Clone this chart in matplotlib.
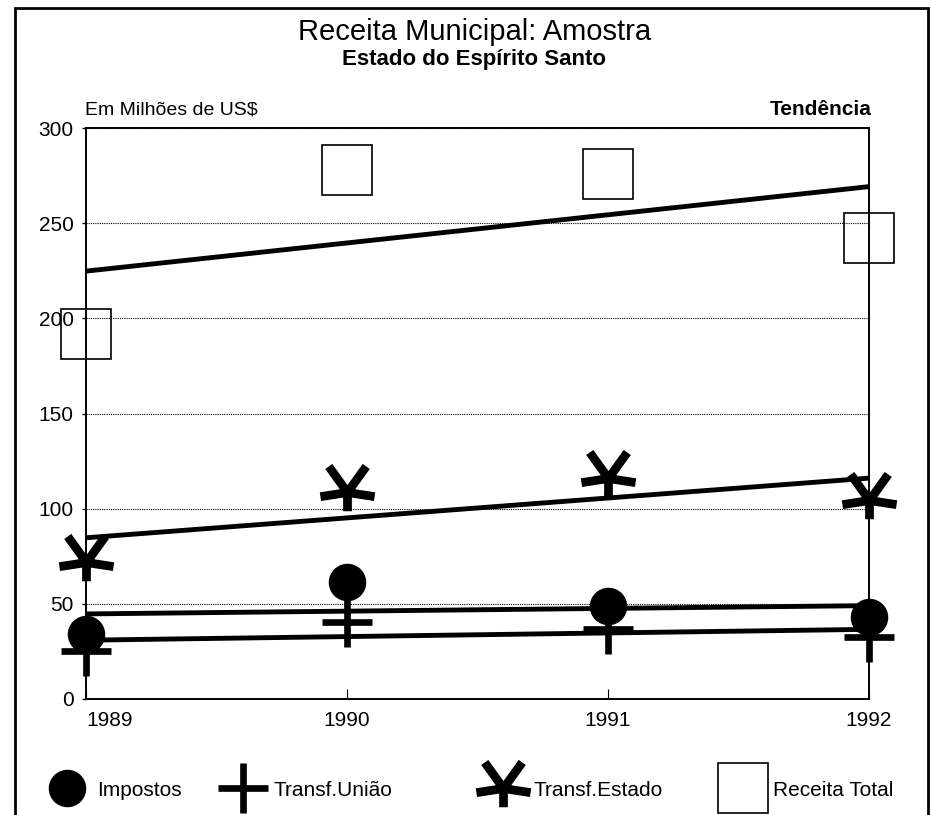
import numpy as np
import matplotlib
matplotlib.use("Agg")
import matplotlib.pyplot as plt
from matplotlib.lines import Line2D
from matplotlib.path import Path
from matplotlib.patches import Rectangle

plt.rcParams['font.family'] = ['Liberation Sans', 'DejaVu Sans']

# data (millions of US$)
years = [1989, 1990, 1991, 1992]
impostos = [34, 61.5, 49, 43]
transf_uniao = [25, 40.5, 37, 32.5]
transf_estado = [72, 109, 116, 104.5]
receita_total = [192, 278, 276, 242]

series_names = ['Impostos', 'Transf.União', 'Transf.Estado', 'Receita Total']
y_ticks = [0, 50, 100, 150, 200, 250, 300]

# star marker of the original: five arms, short stem pointing down
star_tips = [(-18, 25), (18, 25), (-26, -4), (26, -4), (0, -18)]
verts, codes = [], []
for tip in star_tips:
    verts += [(0, 0), tip]
    codes += [Path.MOVETO, Path.LINETO]
star = Path(verts, codes)

styles = {
    'Impostos': dict(marker='o', ms=27, mfc='black', mec='black', mew=0),
    'Transf.União': dict(marker='+', ms=36, mec='black', mew=4.8),
    'Transf.Estado': dict(marker=star, ms=39, mfc='none', mec='black', mew=6.3),
    'Receita Total': dict(marker='s', ms=36, mfc='none', mec='black', mew=1.2),
}

W, H = 931, 815
fig = plt.figure(figsize=(W / 100, H / 100), dpi=100)
ax = fig.add_axes([86 / W, 1 - 699 / H, (869 - 86) / W, (699 - 128) / H])

# trend lines (least squares) and markers
for name, vals in zip(series_names, [impostos, transf_uniao, transf_estado, receita_total]):
    coef = np.polyfit(years, vals, 1)
    ax.plot(years, np.polyval(coef, years), color='black', lw=3.5,
            solid_capstyle='butt', zorder=3)
    ax.plot(years, vals, linestyle='none', clip_on=False, zorder=4, **styles[name])

ax.set_xlim(1989, 1992)
ax.set_ylim(0, 300)
ax.set_xticks(years)
ax.set_yticks(y_ticks)
ax.yaxis.grid(True, linestyle=(0, (1, 1)), color='black', lw=0.8)
ax.set_axisbelow(True)
ax.tick_params(axis='y', direction='out', length=3, width=1, pad=6, labelsize=15)
ax.tick_params(axis='x', direction='in', length=7, width=0.8, pad=9, labelsize=15)
ax.get_xticklabels()[0].set_ha('left')
for s in ax.spines.values():
    s.set_linewidth(1.4)

# titles
fig.text(475 / W, 1 - 40 / H, 'Receita Municipal: Amostra', ha='center', va='baseline', fontsize=21)
fig.text(474 / W, 1 - 65 / H, 'Estado do Espírito Santo', ha='center', va='baseline',
         fontsize=16, weight='bold')
fig.text(85 / W, 1 - 115 / H, 'Em Milhões de US$', ha='left', va='baseline', fontsize=14)
fig.text(872 / W, 1 - 115 / H, 'Tendência', ha='right', va='baseline', fontsize=15, weight='bold')

# legend row along the bottom
legend_x = [46, 222, 482, 722]
for name, x in zip(series_names, legend_x):
    h = Line2D([], [], linestyle='none', **styles[name])
    fig.legend([h], [name], loc='center left', bbox_to_anchor=(x / W, 1 - 790 / H),
               frameon=False, fontsize=15, handlelength=2.0, handletextpad=0.45,
               borderpad=0, borderaxespad=0)

# outer border of the page
fig.add_artist(Rectangle((15 / W, -0.05), (928 - 15) / W, 1.05 - 8 / H,
                         transform=fig.transFigure, fill=False, lw=2, ec='black'))

fig.savefig('out.png', dpi=100)
